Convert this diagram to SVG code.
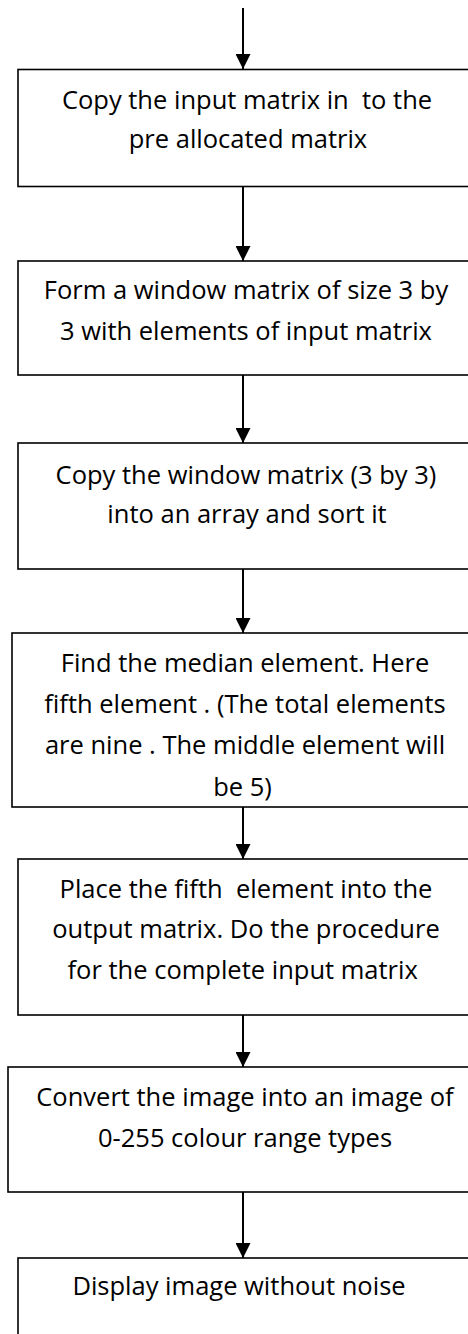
<svg xmlns="http://www.w3.org/2000/svg" width="468" height="1334" viewBox="0 0 468 1334">
<defs>
<marker id="ah" viewBox="0 0 10 10" refX="10" refY="5" markerWidth="7.5" markerHeight="7.5" orient="auto" markerUnits="strokeWidth">
<path d="M0,0 L10,5 L0,10 Z" fill="#000"/>
</marker>
<style>
.box{fill:#fff;stroke:#000;stroke-width:1.6}
.t{font-family:"Open Sans","Noto Sans",sans-serif;font-size:25.5px;fill:#000;text-anchor:middle;white-space:pre}
.c{stroke:#000;stroke-width:2;fill:none;marker-end:url(#ah)}
</style>
</defs>
<rect width="468" height="1334" fill="#fff"/>
<g id="connectors">
<line class="c" x1="243" y1="8" x2="243" y2="69"/>
<line class="c" x1="243" y1="187" x2="243" y2="261"/>
<line class="c" x1="243" y1="375" x2="243" y2="443"/>
<line class="c" x1="243" y1="569" x2="243" y2="633"/>
<line class="c" x1="243" y1="807" x2="243" y2="859"/>
<line class="c" x1="243" y1="1015" x2="243" y2="1067"/>
<line class="c" x1="243" y1="1192" x2="243" y2="1258"/>
</g>
<g id="n1">
<rect class="box" x="18" y="69.5" width="460" height="117"/>
<text class="t" x="247" y="109">Copy the input matrix in  to the</text>
<text class="t" x="248" y="148">pre allocated matrix</text>
</g>
<g id="n2">
<rect class="box" x="18" y="261" width="460" height="114"/>
<text class="t" x="246" y="299">Form a window matrix of size 3 by</text>
<text class="t" x="246" y="340">3 with elements of input matrix</text>
</g>
<g id="n3">
<rect class="box" x="18" y="443" width="460" height="126"/>
<text class="t" x="246" y="484">Copy the window matrix (3 by 3)</text>
<text class="t" x="247" y="523">into an array and sort it</text>
</g>
<g id="n4">
<rect class="box" x="12" y="633" width="466" height="174"/>
<text class="t" x="245" y="672">Find the median element. Here</text>
<text class="t" x="245" y="713">fifth element . (The total elements</text>
<text class="t" x="245" y="754">are nine . The middle element will</text>
<text class="t" x="242.5" y="796">be 5)</text>
</g>
<g id="n5">
<rect class="box" x="18" y="859" width="460" height="156"/>
<text class="t" x="246" y="898">Place the fifth  element into the</text>
<text class="t" x="246" y="938">output matrix. Do the procedure</text>
<text class="t" x="246" y="979">for the complete input matrix </text>
</g>
<g id="n6">
<rect class="box" x="8" y="1067" width="470" height="125"/>
<text class="t" x="245" y="1106">Convert the image into an image of</text>
<text class="t" x="245" y="1147">0-255 colour range types</text>
</g>
<g id="n7">
<rect class="box" x="18" y="1258" width="460" height="90"/>
<text class="t" x="239" y="1295">Display image without noise</text>
</g>
</svg>
